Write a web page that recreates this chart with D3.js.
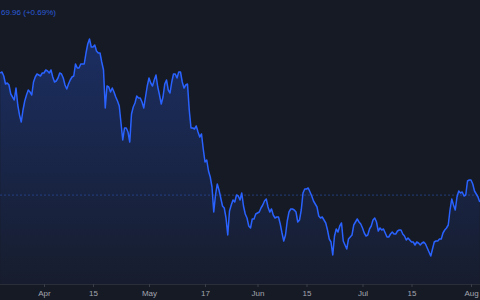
<!DOCTYPE html>
<html>
<head>
<meta charset="utf-8">
<script src="https://cdn.jsdelivr.net/npm/d3@7"></script>
<style>
  html, body { margin: 0; padding: 0; background: #161a25; overflow: hidden; }
  svg { display: block; }
</style>
</head>
<body>
<div id="chart"></div>
<script>
// price every 12 hours, from 2021-03-19 12:00 to 2021-08-03 12:00
const firstTime = "2021-03-19 12:00";
const lastTime = "2021-08-03 12:00";
const prices = [
  81.7, 81.8, 81.4, 80.6, 80.7, 80.5, 79.6, 79.3, 79.0, 80.2,
  78.5, 77.5, 76.8, 78.0, 78.9, 79.5, 80.0, 79.8, 79.5, 80.8,
  81.3, 81.6, 81.5, 81.4, 81.7, 81.7, 82.0, 81.9, 81.7, 82.0,
  81.3, 80.8, 80.9, 81.2, 81.7, 81.6, 81.2, 80.5, 80.1, 80.6,
  81.0, 81.3, 81.4, 82.6, 82.2, 82.2, 82.6, 82.6, 82.6, 83.7,
  84.6, 85.1, 84.3, 84.3, 84.5, 83.9, 83.7, 83.7, 82.8, 82.0,
  78.2, 80.4, 80.3, 79.8, 80.2, 79.8, 79.3, 78.9, 78.4, 76.7,
  75.0, 76.2, 76.2, 75.8, 74.8, 77.6, 78.3, 78.7, 79.4, 79.2,
  79.2, 78.8, 78.2, 79.3, 80.4, 81.2, 80.7, 80.4, 81.0, 81.5,
  80.3, 79.5, 78.6, 79.3, 80.6, 81.0, 80.0, 79.7, 80.8, 81.6,
  81.6, 81.2, 81.8, 81.8, 80.8, 80.2, 80.5, 80.6, 78.0, 76.2,
  76.2, 76.1, 76.4, 75.8, 75.3, 75.6, 74.1, 72.8, 73.0, 71.9,
  71.3, 70.3, 67.8, 69.5, 70.6, 70.0, 69.2, 68.4, 68.2, 67.2,
  65.5, 67.9, 68.5, 69.0, 68.8, 69.5, 69.4, 69.0, 69.7, 68.4,
  67.6, 67.2, 66.4, 66.2, 67.1, 67.1, 67.6, 67.7, 67.8, 68.2,
  68.5, 68.9, 69.1, 68.3, 67.8, 68.1, 67.5, 67.2, 67.3, 67.3,
  66.6, 65.7, 64.9, 65.5, 66.9, 67.8, 68.1, 68.1, 68.0, 67.8,
  66.8, 67.0, 68.0, 69.7, 70.1, 70.1, 70.2, 69.8, 69.4, 68.9,
  68.6, 68.3, 67.4, 67.2, 67.3, 67.0, 66.7, 66.0, 65.1, 64.8,
  63.5, 65.4, 66.1, 65.8, 66.4, 66.7, 64.9, 64.5, 64.1, 65.1,
  65.3, 65.5, 66.5, 66.8, 67.1, 66.8, 66.6, 66.2, 65.7, 65.4,
  65.5, 66.1, 66.4, 67.0, 67.2, 66.8, 65.9, 66.2, 66.0, 66.1,
  65.7, 65.3, 65.3, 65.6, 65.8, 65.6, 65.6, 65.9, 66.0, 66.0,
  65.6, 65.4, 65.0, 65.2, 65.0, 64.8, 64.8, 64.5, 64.8, 64.7,
  64.5, 64.7, 64.8, 64.6, 64.2, 63.8, 63.4, 64.1, 64.8, 64.9,
  64.9, 65.1, 65.1, 65.7, 66.0, 66.2, 66.5, 68.0, 69.1, 68.5,
  68.0, 69.3, 69.9, 69.7, 69.8, 69.4, 69.5, 70.9, 71.0, 71.0,
  70.6, 69.9, 69.6, 69.3, 68.8
];
const prevClose = 69.49;
const headerText = "69.96 (+0.69%)";
const tickDates = ["2021-04-01", "2021-04-15", "2021-05-01", "2021-05-17", "2021-06-01",
                   "2021-06-15", "2021-07-01", "2021-07-15", "2021-08-01"];

const width = 480, height = 300;
const axisY = 284;

const parseTime = d3.timeParse("%Y-%m-%d %H:%M");
const parseDay = d3.timeParse("%Y-%m-%d");
const times = d3.timeHour.every(12).range(parseTime(firstTime), d3.timeHour.offset(parseTime(lastTime), 1));
const data = prices.map((p, i) => ({ t: times[i], v: p }));

const x = d3.scaleTime()
  .domain([parseTime(firstTime), parseTime(lastTime)])
  .range([0.25, 479.75]);
const y = d3.scaleLinear()
  .domain([60, 90])
  .range([290, -10]);

const svg = d3.select("#chart")
  .append("svg")
  .attr("width", width)
  .attr("height", height);

svg.append("rect")
  .attr("width", width)
  .attr("height", height)
  .attr("fill", "#161a25");

const grad = svg.append("defs")
  .append("linearGradient")
  .attr("id", "areaFill")
  .attr("gradientUnits", "userSpaceOnUse")
  .attr("x1", 0).attr("x2", 0)
  .attr("y1", y(d3.max(prices))).attr("y2", axisY);
grad.append("stop").attr("offset", "0%").attr("stop-color", "#2962ff").attr("stop-opacity", 0.28);
grad.append("stop").attr("offset", "100%").attr("stop-color", "#2962ff").attr("stop-opacity", 0.04);

svg.append("path")
  .datum(data)
  .attr("fill", "url(#areaFill)")
  .attr("d", d3.area().x(d => x(d.t)).y0(axisY).y1(d => y(d.v)));

// previous close
svg.append("line")
  .attr("x1", 0).attr("x2", width)
  .attr("y1", y(prevClose)).attr("y2", y(prevClose))
  .attr("stroke", "#2a4aa0")
  .attr("stroke-opacity", 0.7)
  .attr("stroke-width", 1)
  .attr("stroke-dasharray", "2,2");

svg.append("path")
  .datum(data)
  .attr("fill", "none")
  .attr("stroke", "#2962ff")
  .attr("stroke-width", 1.5)
  .attr("stroke-linejoin", "round")
  .attr("d", d3.line().x(d => x(d.t)).y(d => y(d.v)));

// x axis
const xAxis = d3.axisBottom(x)
  .tickValues(tickDates.map(parseDay))
  .tickSize(3)
  .tickSizeOuter(0)
  .tickFormat(d => d.getDate() === 1 ? d3.timeFormat("%b")(d) : d3.timeFormat("%-d")(d));

const gx = svg.append("g")
  .attr("transform", "translate(0," + axisY + ")")
  .call(xAxis);
gx.select(".domain").attr("stroke", "#2a2e39").attr("d", "M0,0.5H" + width);
gx.selectAll(".tick line").attr("stroke", "#3a3e49");
gx.selectAll(".tick text")
  .attr("y", 6)
  .attr("fill", "#a3a6af")
  .style("font-family", "'Liberation Sans', Arial, sans-serif")
  .style("font-size", "8px");

svg.append("text")
  .text(headerText)
  .attr("x", 1)
  .attr("y", 15)
  .attr("fill", "#2a5ad8")
  .style("font-family", "'Liberation Sans', Arial, sans-serif")
  .style("font-size", "8px");
</script>
</body>
</html>
